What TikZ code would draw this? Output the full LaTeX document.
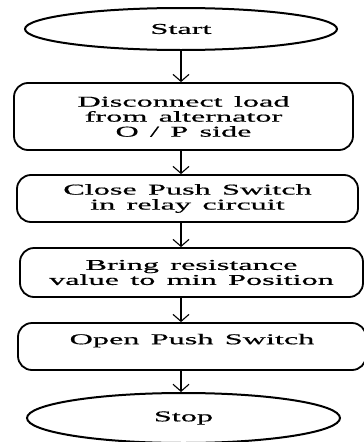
\documentclass[tikz,border=0pt]{standalone}
\usepackage{fontspec}
\setmainfont[FakeStretch=2.15,FakeBold=0.6,WordSpace=1.4]{Liberation Serif}
\usetikzlibrary{shapes.geometric,positioning,arrows.meta}

\tikzset{
  term/.style={draw,ellipse,line width=2pt,inner sep=0pt},
  stepbox/.style={draw,rounded corners=14pt,line width=1.8pt,align=center,inner sep=0pt},
  flow/.style={-{Straight Barb[length=7pt,width=16pt]},line width=1.1pt}
}

\begin{document}
\begin{tikzpicture}[node distance=80pt,on grid,font=\fontsize{15}{15}\selectfont]
    \useasboundingbox (0,0) rectangle (364pt,-442pt);
    \node[term,minimum width=312pt,minimum height=42pt] (start) at (181pt,-29pt) {Start};
    \node[stepbox,minimum width=339pt,minimum height=67pt] (disc) [below=87.5pt of start,xshift=2.5pt] {Disconnect load\\from alternator\\O / P side};
    \node[stepbox,minimum width=341pt,minimum height=47pt] (close) [below=82pt of disc,xshift=4pt] {Close Push Switch\\in relay circuit};
    \node[stepbox,minimum width=343pt,minimum height=49pt] (bring) [below=74pt of close,xshift=4pt] {Bring resistance\\value to min Position};
    \node[stepbox,minimum width=348pt,minimum height=47pt] (open) [below=74pt of bring,xshift=0.5pt] {Open Push Switch\\\mbox{}};
    \node[term,minimum width=313pt,minimum height=50pt] (stop) [below=71.5pt of open,xshift=-8.5pt] {Stop};
    \draw[flow] (start.south) -- (start.south |- disc.north);
    \draw[flow] (disc.south -| start) -- (close.north -| start);
    \draw[flow] (close.south -| start) -- (bring.north -| start);
    \draw[flow] (bring.south -| start) -- (open.north -| start);
    \draw[flow] (open.south -| start) -- (stop.north -| start);
\end{tikzpicture}
\end{document}
